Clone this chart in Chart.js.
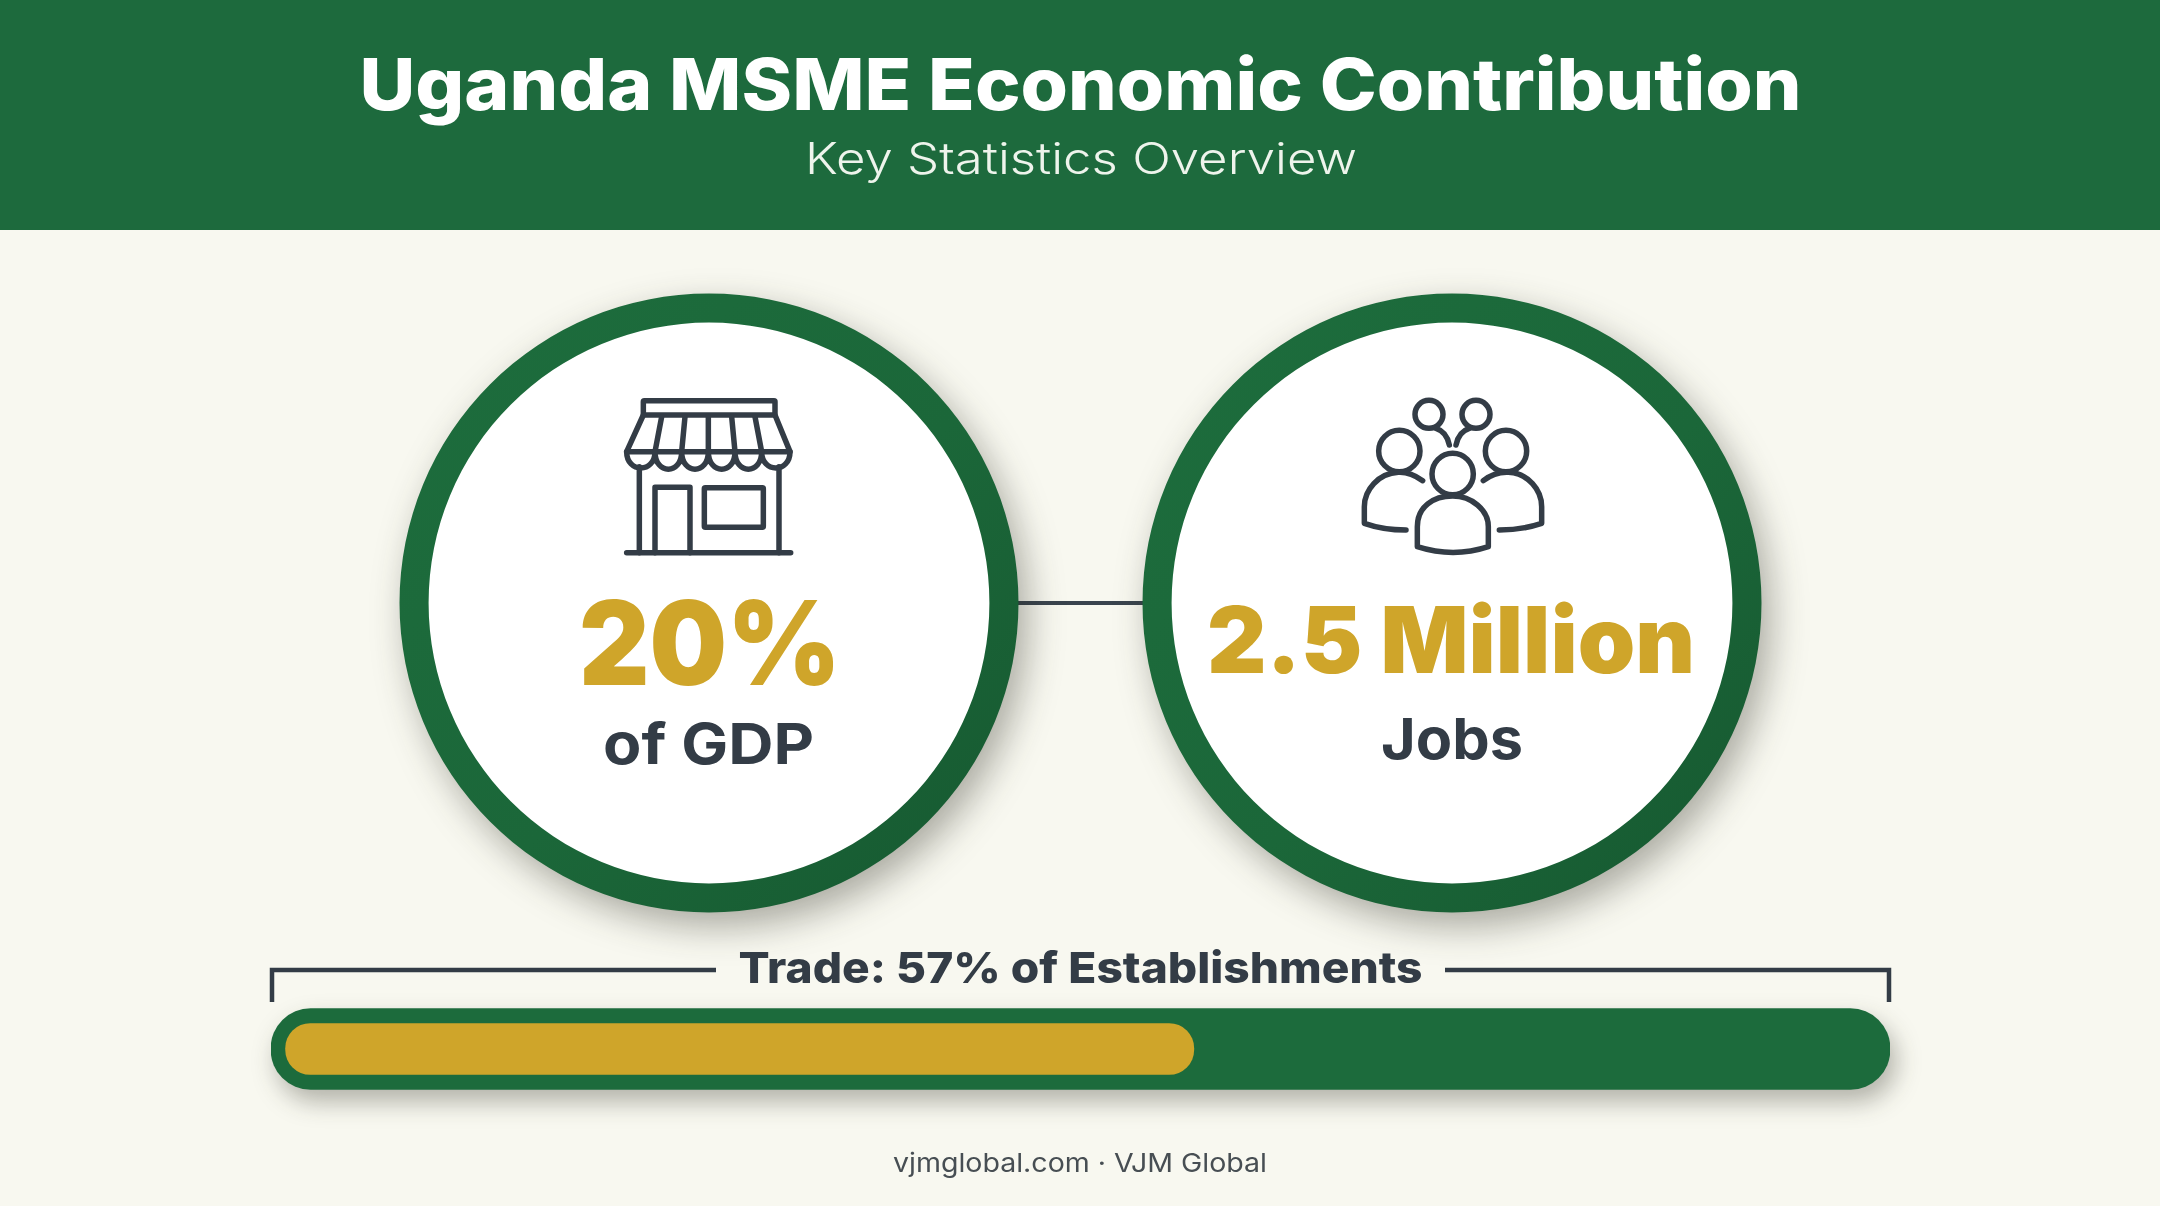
<!DOCTYPE html>
<html lang="en">
<head>
<meta charset="utf-8">
<title>Uganda MSME Economic Contribution</title>
<script src="https://cdn.jsdelivr.net/npm/chart.js@4"></script>
<style>
  html,body{margin:0;padding:0;width:2160px;height:1206px;overflow:hidden;background:#f8f8f0;}
  #header{position:absolute;left:0;top:0;width:2160px;height:230px;background:#1d6a3d;}
  canvas{position:absolute;}
  #ringA{left:348.5px;top:243px;filter:drop-shadow(9px 14px 18px rgba(30,30,20,.36));}
  #ringB{left:1092px;top:243px;filter:drop-shadow(9px 14px 18px rgba(30,30,20,.36));}
  #bar{left:221px;top:958px;filter:drop-shadow(6px 12px 12px rgba(30,30,20,.32));}
  #overlay{position:absolute;left:0;top:0;}
  text{font-family:Inter,"Noto Sans",sans-serif;text-anchor:middle;}
  .ico{fill:none;stroke:#333c46;stroke-width:16.5;stroke-linecap:round;stroke-linejoin:round;}
</style>
</head>
<body>
<div id="header"></div>

<svg id="overlay" width="2160" height="1206" viewBox="0 0 2160 1206" xmlns="http://www.w3.org/2000/svg">
  <path d="M1016 603H1145" stroke="#3a444e" stroke-width="4" fill="none"/>
</svg>

<canvas id="ringA" width="720" height="720"></canvas>
<canvas id="ringB" width="720" height="720"></canvas>
<canvas id="bar" width="1719" height="182"></canvas>

<svg id="overlay2" style="position:absolute;left:0;top:0" width="2160" height="1206" viewBox="0 0 2160 1206" xmlns="http://www.w3.org/2000/svg">
  <path d="M272 1002V970H716M1445 970H1889V1002" stroke="#333c46" stroke-width="4.5" fill="none"/>

  <text id="tTitle" x="1080.5" y="110" font-size="72" font-weight="800" fill="#ffffff" textLength="1442" lengthAdjust="spacingAndGlyphs"></text>
  <text id="tSub" x="1081" y="174" font-size="44" font-weight="300" fill="#eef4ec" textLength="552" lengthAdjust="spacingAndGlyphs"></text>

  <text id="tStatA" x="710" y="685" font-size="117" font-weight="900" fill="#cfa52a" textLength="262" lengthAdjust="spacingAndGlyphs"></text>
  <text id="tLabelA" x="708.5" y="764" font-size="57" font-weight="700" fill="#333c46" textLength="211" lengthAdjust="spacingAndGlyphs"></text>
  <text id="tStatB" x="1451" y="673" font-size="92" font-weight="900" fill="#cfa52a" textLength="488" lengthAdjust="spacingAndGlyphs"></text>
  <text id="tLabelB" x="1452" y="759" font-size="57" font-weight="700" fill="#333c46" textLength="142" lengthAdjust="spacingAndGlyphs"></text>

  <text id="tTrade" x="1080.5" y="983" font-size="43" font-weight="800" fill="#333c46" textLength="684" lengthAdjust="spacingAndGlyphs"></text>
  <text id="tFoot" x="1080" y="1172" font-size="26" font-weight="400" fill="#474e53" textLength="374" lengthAdjust="spacingAndGlyphs"></text>

  <!-- shop icon -->
  <g class="ico" transform="translate(580 370) scale(.33333)">
    <rect x="190" y="92" width="395" height="43" rx="3"/>
    <path d="M190 135L140 245M585 135L630 245M140 245H630"/>
    <path d="M245 140L225 245M315 140L305 245M385 140V245M455 140L465 245M525 140L545 245"/>
    <path d="M140 245C140 310 225 310 225 245C225 315 305 315 305 245C305 315 385 315 385 245C385 315 465 315 465 245C465 315 545 315 545 245C545 310 630 310 630 245"/>
    <path d="M178 290V548M597 290V548"/>
    <path d="M225 548V352H330V548"/>
    <rect x="373" y="353" width="177" height="119" rx="3"/>
    <path d="M140 548H632"/>
  </g>

  <!-- people icon -->
  <g class="ico" transform="translate(1330 370) scale(.33333)">
    <circle cx="297" cy="133" r="42"/>
    <circle cx="438" cy="133" r="42"/>
    <path d="M318 175Q350 185 358 225M418 175Q386 185 378 225"/>
    <circle cx="208" cy="243" r="62"/>
    <circle cx="528" cy="243" r="62"/>
    <circle cx="368" cy="312" r="62"/>
    <path d="M278 332Q240 305 205 307C145 310 103 360 103 410V460Q160 480 228 480"/>
    <path d="M460 332Q495 305 535 307C595 310 635 360 635 410V460Q575 480 508 480"/>
    <path d="M262 530V470C262 410 310 378 368 378C425 378 475 420 475 470V530Q370 565 262 530Z"/>
  </g>
</svg>

<script>
// ---- text ----
const titleText = "Uganda MSME Economic Contribution";
const subtitleText = "Key Statistics Overview";
const statLabels = ["20%", "2.5 Million"];
const statCaptions = ["of GDP", "Jobs"];
const barCategories = ["Trade"];
const barCaption = "Trade: 57% of Establishments";
const footerText = "vjmglobal.com · VJM Global";

// ---- values ----
const ringValuesA = [100];
const ringValuesB = [100];
const barTrack = [100];
const barStart = [0.9];
const barFill = [57];

// ---- colours ----
const GREEN = "#1c6b3c", GOLD = "#cfa52a";

const put = (id, s) => { document.getElementById(id).textContent = s; };
put("tTitle", titleText); put("tSub", subtitleText);
put("tStatA", statLabels[0]); put("tLabelA", statCaptions[0]);
put("tStatB", statLabels[1]); put("tLabelB", statCaptions[1]);
put("tTrade", barCaption); put("tFoot", footerText);

Chart.defaults.animation = false;
Chart.defaults.plugins.legend.display = false;
Chart.defaults.plugins.tooltip.enabled = false;

// white disc filling the inside of the ring, sized from the arc the chart laid out
const whiteDisc = {
  id: "whiteDisc",
  beforeDatasetsDraw(chart) {
    const arc = chart.getDatasetMeta(0).data[0];
    if (!arc) return;
    const c = chart.ctx;
    c.save();
    c.fillStyle = "#ffffff";
    c.beginPath();
    c.arc(arc.x, arc.y, arc.innerRadius + 1, 0, Math.PI * 2);
    c.fill();
    c.restore();
  }
};

function ringFill(context) {
  const ch = context.chart, a = ch.chartArea;
  if (!a) return GREEN;
  const g = ch.ctx.createLinearGradient(a.left, a.top, a.right, a.bottom);
  g.addColorStop(0, "#1d6d3d");
  g.addColorStop(0.55, "#1b6739");
  g.addColorStop(1, "#165830");
  return g;
}

function makeRing(id, values) {
  return new Chart(document.getElementById(id), {
    type: "doughnut",
    data: { labels: ["Ring"], datasets: [{ data: values, backgroundColor: ringFill, borderWidth: 0 }] },
    options: {
      responsive: false, devicePixelRatio: 1,
      cutout: "90.6%",
      layout: { padding: 50.5 }
    },
    plugins: [whiteDisc]
  });
}
makeRing("ringA", ringValuesA);
makeRing("ringB", ringValuesB);

new Chart(document.getElementById("bar"), {
  type: "bar",
  data: {
    labels: barCategories,
    datasets: [
      { label: "Establishments", data: barFill.map((v, i) => [barStart[i], v]), backgroundColor: GOLD,
        barThickness: 51, borderRadius: 25, borderSkipped: false, grouped: false, order: 1 },
      { label: "All", data: barTrack, backgroundColor: GREEN,
        barThickness: 81, borderRadius: 40, borderSkipped: false, grouped: false, order: 2 }
    ]
  },
  options: {
    indexAxis: "y",
    responsive: false, devicePixelRatio: 1,
    layout: { padding: { left: 50, right: 50, top: 0, bottom: 0 } },
    scales: {
      x: { display: false, min: 0, max: 100 },
      y: { display: false }
    }
  }
});
</script>
</body>
</html>
